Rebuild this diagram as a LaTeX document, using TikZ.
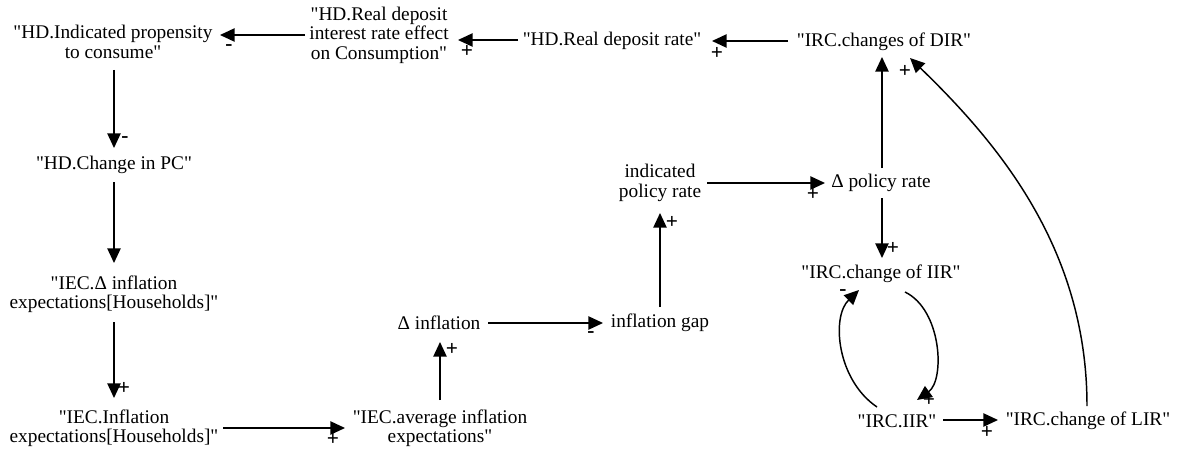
\documentclass[tikz,border=0pt]{standalone}
\usetikzlibrary{arrows.meta,calc}
\font\mainf="Liberation Serif" at 14.5pt
\font\signf="Liberation Serif/B" at 16pt
\newcommand\lblfont{\mainf\baselineskip 14.6pt\relax}
\newcommand\sgnfont{\signf}
\begin{document}
\begin{tikzpicture}[x=0.75pt,y=-0.75pt,
  lbl/.style={inner sep=0pt, align=center, font=\lblfont},
  sign/.style={inner sep=0pt, font=\sgnfont},
  arr/.style={-{Triangle[length=11pt,width=10pt]}, line width=1.1pt},
]
\useasboundingbox (0,0) rectangle (1179,453);

% variables
\node[lbl] (hdipc) at (113,42) {"HD.Indicated propensity\\to consume"};
\node[lbl] (hdrde) at (379,35) {"HD.Real deposit\\interest rate effect\\on Consumption"};
\node[lbl] (hdrdr) at (612,41) {"HD.Real deposit rate"};
\node[lbl] (ircdir) at (884,42) {"IRC.changes of DIR"};
\node[lbl] (hdcpc) at (114,165) {"HD.Change in PC"};
\node[lbl] (iecdi) at (114,294) {"IEC.Δ inflation\\expectations[Households]"};
\node[lbl] (iecie) at (114,428) {"IEC.Inflation\\expectations[Households]"};
\node[lbl] (iecavg) at (440,428) {"IEC.average inflation\\expectations"};
\node[lbl] (dinf) at (439,323) {Δ inflation};
\node[lbl] (igap) at (660,323) {inflation gap};
\node[lbl] (ipr) at (660,183) {indicated\\policy rate};
\node[lbl] (dpr) at (881,183) {Δ policy rate};
\node[lbl] (iiirc) at (881,274) {"IRC.change of IIR"};
\node[lbl] (iir) at (897,421) {"IRC.IIR"};
\node[lbl] (lir) at (1088,421) {"IRC.change of LIR"};

% links
\draw[arr] ($(ircdir)+(-96,-1)$) -- ($(hdrdr)+(100,0)$);
\draw[arr] ($(hdrdr)+(-94,-1)$) -- ($(hdrde)+(79,5)$);
\draw[arr] ($(hdrde)+(-74,0)$) -- ($(hdipc)+(107,-7)$);
\draw[arr] ($(hdipc)+(1,28)$) -- ($(hdcpc)+(0,-17)$);
\draw[arr] ($(hdcpc)+(0,17)$) -- ($(iecdi)+(0,-31)$);
\draw[arr] ($(iecdi)+(0,28)$) -- ($(iecie)+(0,-30)$);
\draw[arr] ($(iecie)+(109,0)$) -- ($(iecavg)+(-95,0)$);
\draw[arr] ($(iecavg)+(0,-28)$) -- ($(dinf)+(1,19)$);
\draw[arr] ($(dinf)+(49,0)$) -- ($(igap)+(-57,0)$);
\draw[arr] ($(igap)+(0,-16)$) -- ($(ipr)+(0,30)$);
\draw[arr] ($(ipr)+(47,0)$) -- ($(dpr)+(-56,0)$);
\draw[arr] ($(dpr)+(1,-15)$) -- ($(ircdir)+(-2,15)$);
\draw[arr] ($(dpr)+(1,15)$) -- ($(iiirc)+(1,-16)$);
\draw[arr] ($(iir)+(-20,-14)$) .. controls ($(iir)+(-60,-41)$) and ($(iiirc)+(-50,43)$) .. ($(iiirc)+(-22,16)$);
\draw[arr] ($(iiirc)+(24,18)$) .. controls ($(iiirc)+(61,36)$) and ($(iir)+(48,-41)$) .. ($(iir)+(20,-21)$);
\draw[arr] ($(iir)+(46,-1)$) -- ($(lir)+(-90,-1)$);
\draw[arr] ($(lir)+(-1,-15)$) .. controls ($(lir)+(-1,-171)$) and ($(ircdir)+(116,103)$) .. ($(ircdir)+(26,16)$);

% polarities
\node[sign] (s1) at (717,53) {+};
\node[sign] (s2) at (467,51) {+};
\node[sign] (s3) at (229,48) {-};
\node[sign] (s4) at (125,140) {-};
\node[sign] (s5) at (124,388) {+};
\node[sign] (s6) at (333,439) {+};
\node[sign] (s7) at (452,349) {+};
\node[sign] (s8) at (591,335) {-};
\node[sign] (s9) at (672,222) {+};
\node[sign] (s10) at (813,194) {+};
\node[sign] (s11) at (905,71) {+};
\node[sign] (s12) at (893,248) {+};
\node[sign] (s13) at (843,293) {-};
\node[sign] (s14) at (929,400) {+};
\node[sign] (s15) at (987,432) {+};
\end{tikzpicture}
\end{document}
